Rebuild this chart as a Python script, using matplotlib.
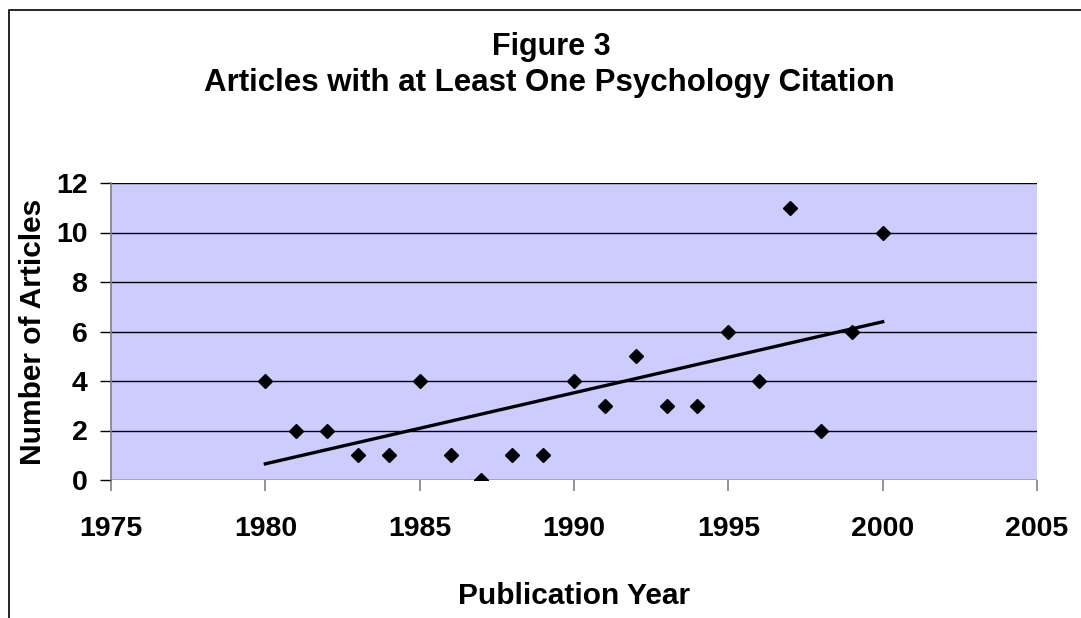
import numpy as np
import matplotlib.pyplot as plt
from matplotlib.patches import Rectangle

# dati
anni = [1980, 1981, 1982, 1983, 1984, 1985, 1986, 1987, 1988, 1989, 1990,
        1991, 1992, 1993, 1994, 1995, 1996, 1997, 1998, 1999, 2000]
articoli = [4, 2, 2, 1, 1, 4, 1, 0, 1, 1, 4, 3, 5, 3, 3, 6, 4, 11, 2, 6, 10]
x_ticks = [1975, 1980, 1985, 1990, 1995, 2000, 2005]
y_ticks = [0, 2, 4, 6, 8, 10, 12]

plt.rcParams['font.family'] = ['Liberation Sans', 'DejaVu Sans']
plt.rcParams['font.weight'] = 'bold'

W, H = 1081, 618
fig = plt.figure(figsize=(W / 100, H / 100), dpi=100)
ax = fig.add_axes([111 / W, 1 - 480 / H, (1037 - 111) / W, (480 - 183) / H])

# cornice esterna
fig.patches.append(Rectangle((9 / W, -0.1), 1.2, 1 - 10 / H + 0.1, transform=fig.transFigure,
                             fill=False, edgecolor='black', linewidth=1.2))

ax.set_facecolor('#ccccff')
ax.set_xlim(1975, 2005)
ax.set_ylim(0, 12)
ax.set_xticks(x_ticks)
ax.set_yticks(y_ticks)
for y in y_ticks:
    ax.axhline(y, color='black', linewidth=1.0, zorder=1)

ax.plot(anni, articoli, linestyle='none', marker='D', markersize=7,
        color='black', zorder=3)

# linea di tendenza lineare
coef = np.polyfit(anni, articoli, 1)
xt = np.array([anni[0], anni[-1]])
ax.plot(xt, np.polyval(coef, xt), color='black', linewidth=2.4, zorder=2)

for s in ['top', 'right', 'bottom']:
    ax.spines[s].set_visible(False)
ax.spines['left'].set_color('#808080')
ax.spines['left'].set_linewidth(1.2)
ax.tick_params(axis='y', length=8, width=1, color='black', labelsize=20.5, pad=9)
ax.tick_params(axis='x', length=8, width=1.2, color='#808080', labelsize=20.5, pad=18)

ax.set_xlabel('Publication Year', fontsize=21.5, fontweight='bold', va='baseline')
ax.xaxis.set_label_coords(0.5, (480 - 604) / 297)
ax.set_ylabel('Number of Articles', fontsize=21.5, fontweight='bold', va='center')
ax.yaxis.set_label_coords((33 - 111) / 926, 0.5)

fig.text(551 / W, 1 - 55 / H, 'Figure 3', ha='center', va='baseline', fontsize=22, fontweight='bold')
fig.text(549 / W, 1 - 91 / H, 'Articles with at Least One Psychology Citation',
         ha='center', va='baseline', fontsize=22.5, fontweight='bold')

fig.savefig('out.png', dpi=100)
